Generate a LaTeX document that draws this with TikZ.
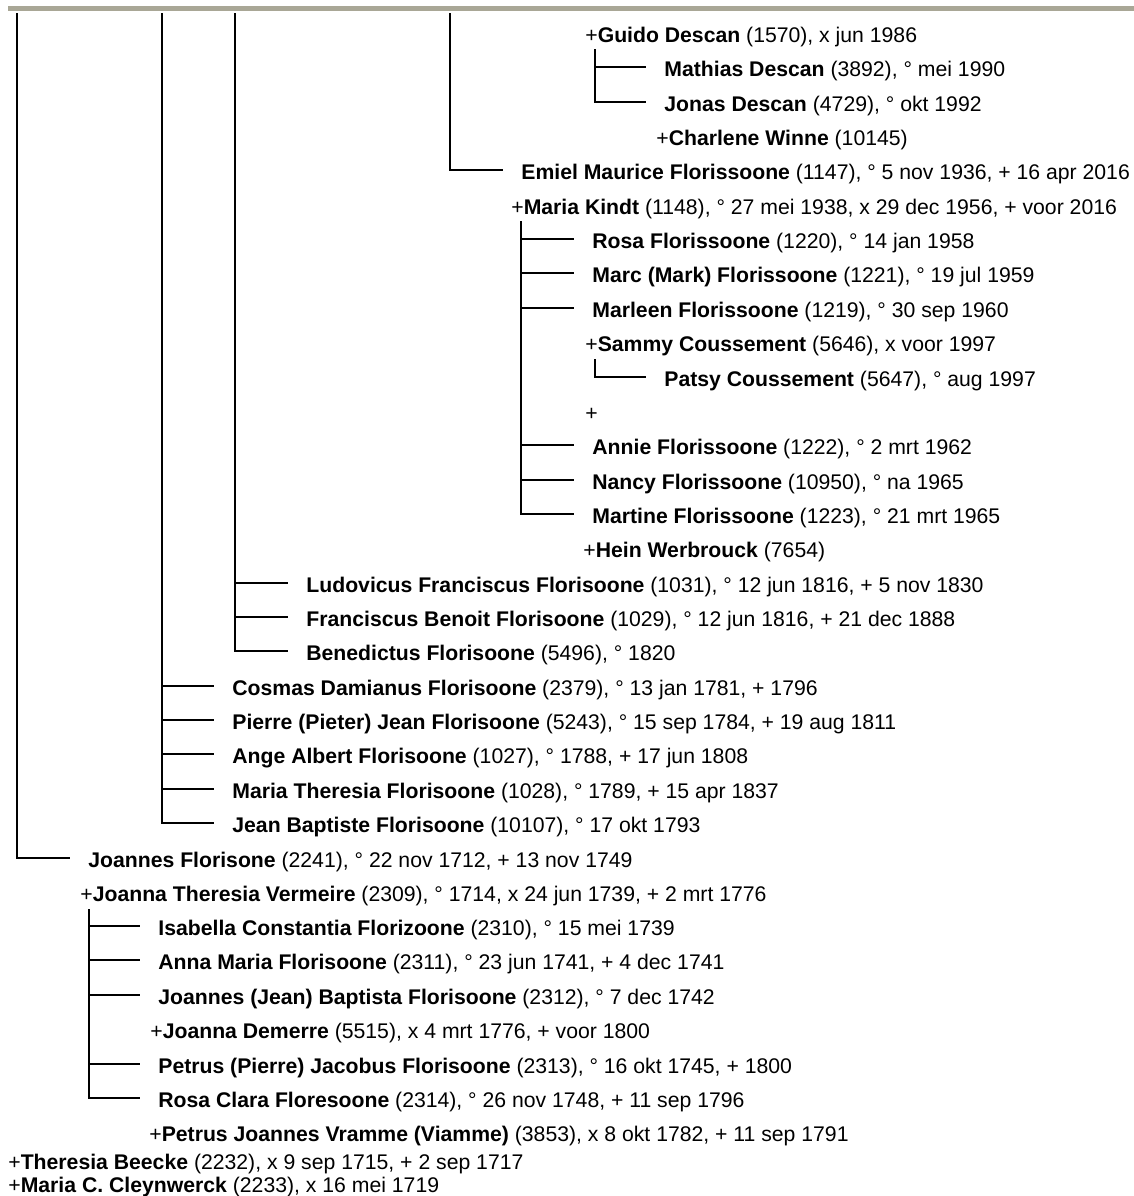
\documentclass[tikz,border=0pt]{standalone}
\usepackage{fontspec}
\setmainfont{Liberation Sans}
\definecolor{barGray}{HTML}{A9A796}

\begin{document}
\begin{tikzpicture}
        [
            x=0.5pt, y=-0.5pt,
            font=\fontsize{10.6}{12}\selectfont,
            person/.style={anchor=west, inner sep=0pt, text height=9pt, text depth=0pt},
            kinline/.style={line width=1.2pt, shorten >=9pt}
        ]
        \useasboundingbox (0,0) rectangle (1134,1196);
        \fill[barGray] (8,6) rectangle (1134,10.5);

        % tops of the descent lines
        \coordinate (top1) at (17,13);
        \coordinate (top2) at (162,13);
        \coordinate (top3) at (235,13);
        \coordinate (top4) at (450,13);
        \coordinate (guidokids) at (595,49);
        \coordinate (kindtkids) at (521,221);
        \coordinate (sammykids) at (595,359);
        \coordinate (vermeirekids) at (89,909);

        \node[person] (guido) at (585,33) {+\textbf{Guido Descan} (1570), x jun 1986};
        \node[person] (mathias) at (664,67) {\textbf{Mathias Descan} (3892), ° mei 1990};
        \node[person] (jonas) at (664,102) {\textbf{Jonas Descan} (4729), ° okt 1992};
        \node[person] (charlene) at (656,136) {+\textbf{Charlene Winne} (10145)};
        \node[person] (emiel) at (521,170) {\textbf{Emiel Maurice Florissoone} (1147), ° 5 nov 1936, + 16 apr 2016};
        \node[person] (kindt) at (511,205) {+\textbf{Maria Kindt} (1148), ° 27 mei 1938, x 29 dec 1956, + voor 2016};
        \node[person] (rosa) at (592,239) {\textbf{Rosa Florissoone} (1220), ° 14 jan 1958};
        \node[person] (marc) at (592,273) {\textbf{Marc (Mark) Florissoone} (1221), ° 19 jul 1959};
        \node[person] (marleen) at (592,308) {\textbf{Marleen Florissoone} (1219), ° 30 sep 1960};
        \node[person] (sammy) at (585,342) {+\textbf{Sammy Coussement} (5646), x voor 1997};
        \node[person] (patsy) at (664,377) {\textbf{Patsy Coussement} (5647), ° aug 1997};
        \node[person] (nobody) at (585,411) {+};
        \node[person] (annie) at (592,445) {\textbf{Annie Florissoone} (1222), ° 2 mrt 1962};
        \node[person] (nancy) at (592,480) {\textbf{Nancy Florissoone} (10950), ° na 1965};
        \node[person] (martine) at (592,514) {\textbf{Martine Florissoone} (1223), ° 21 mrt 1965};
        \node[person] (hein) at (583,548) {+\textbf{Hein Werbrouck} (7654)};
        \node[person] (ludovicus) at (306,583) {\textbf{Ludovicus Franciscus Florisoone} (1031), ° 12 jun 1816, + 5 nov 1830};
        \node[person] (franciscus) at (306,617) {\textbf{Franciscus Benoit Florisoone} (1029), ° 12 jun 1816, + 21 dec 1888};
        \node[person] (benedictus) at (306,651) {\textbf{Benedictus Florisoone} (5496), ° 1820};
        \node[person] (cosmas) at (232,686) {\textbf{Cosmas Damianus Florisoone} (2379), ° 13 jan 1781, + 1796};
        \node[person] (pierre) at (232,720) {\textbf{Pierre (Pieter) Jean Florisoone} (5243), ° 15 sep 1784, + 19 aug 1811};
        \node[person] (ange) at (232,754) {\textbf{Ange Albert Florisoone} (1027), ° 1788, + 17 jun 1808};
        \node[person] (mariath) at (232,789) {\textbf{Maria Theresia Florisoone} (1028), ° 1789, + 15 apr 1837};
        \node[person] (jeanb) at (232,823) {\textbf{Jean Baptiste Florisoone} (10107), ° 17 okt 1793};
        \node[person] (joannes) at (88,858) {\textbf{Joannes Florisone} (2241), ° 22 nov 1712, + 13 nov 1749};
        \node[person] (vermeire) at (80,892) {+\textbf{Joanna Theresia Vermeire} (2309), ° 1714, x 24 jun 1739, + 2 mrt 1776};
        \node[person] (isabella) at (158,926) {\textbf{Isabella Constantia Florizoone} (2310), ° 15 mei 1739};
        \node[person] (annam) at (158,960) {\textbf{Anna Maria Florisoone} (2311), ° 23 jun 1741, + 4 dec 1741};
        \node[person] (joannesj) at (158,995) {\textbf{Joannes (Jean) Baptista Florisoone} (2312), ° 7 dec 1742};
        \node[person] (demerre) at (150,1029) {+\textbf{Joanna Demerre} (5515), x 4 mrt 1776, + voor 1800};
        \node[person] (petrusp) at (158,1064) {\textbf{Petrus (Pierre) Jacobus Florisoone} (2313), ° 16 okt 1745, + 1800};
        \node[person] (rosac) at (158,1098) {\textbf{Rosa Clara Floresoone} (2314), ° 26 nov 1748, + 11 sep 1796};
        \node[person] (vramme) at (149,1132) {+\textbf{Petrus Joannes Vramme (Viamme)} (3853), x 8 okt 1782, + 11 sep 1791};
        \node[person] (beecke) at (8,1160) {+\textbf{Theresia Beecke} (2232), x 9 sep 1715, + 2 sep 1717};
        \node[person] (cleynwerck) at (8,1183) {+\textbf{Maria C. Cleynwerck} (2233), x 16 mei 1719};

        % descent lines
        \draw[kinline] (top1) |- (joannes.west);
        \foreach \kid in {cosmas, pierre, ange, mariath, jeanb}
            \draw[kinline] (top2) |- (\kid.west);
        \foreach \kid in {ludovicus, franciscus, benedictus}
            \draw[kinline] (top3) |- (\kid.west);
        \draw[kinline] (top4) |- (emiel.west);
        \foreach \kid in {mathias, jonas}
            \draw[kinline] (guidokids) |- (\kid.west);
        \foreach \kid in {rosa, marc, marleen, annie, nancy, martine}
            \draw[kinline] (kindtkids) |- (\kid.west);
        \draw[kinline] (sammykids) |- (patsy.west);
        \foreach \kid in {isabella, annam, joannesj, petrusp, rosac}
            \draw[kinline] (vermeirekids) |- (\kid.west);
    \end{tikzpicture}
\end{document}
